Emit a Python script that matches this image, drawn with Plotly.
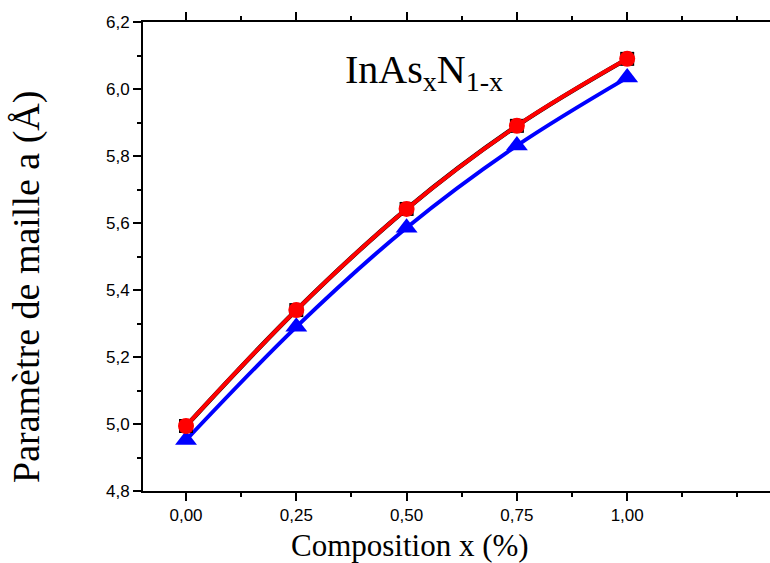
import plotly.graph_objects as go

x_comp = [0.0, 0.25, 0.5, 0.75, 1.0]
a_black = [4.994, 5.340, 5.642, 5.890, 6.090]
a_red = [4.994, 5.340, 5.642, 5.890, 6.090]
a_blue = [4.952, 5.290, 5.586, 5.831, 6.034]

x_ticks = [0.0, 0.25, 0.5, 0.75, 1.0]
y_ticks = [4.8, 5.0, 5.2, 5.4, 5.6, 5.8, 6.0, 6.2]

fig = go.Figure()
fig.add_trace(go.Scatter(x=x_comp, y=a_blue, mode="lines+markers",
                         line=dict(color="#0000ff", width=4, shape="spline"),
                         marker=dict(symbol="triangle-up", size=19, color="#0000ff"),
                         showlegend=False))
fig.add_trace(go.Scatter(x=x_comp, y=a_black, mode="lines+markers",
                         line=dict(color="#000000", width=4.5, shape="spline"),
                         marker=dict(symbol="square", size=14, color="#000000"),
                         showlegend=False))
fig.add_trace(go.Scatter(x=x_comp, y=a_red, mode="lines+markers",
                         line=dict(color="#ff0000", width=4, shape="spline"),
                         marker=dict(symbol="circle", size=16, color="#ff0000"),
                         showlegend=False))

fig.add_annotation(x=0.54, y=6.05, xref="x", yref="y",
                   text="InAs<sub>x</sub>N<sub>1-x</sub>", showarrow=False,
                   font=dict(family="Liberation Serif", size=40, color="black"),
                   xanchor="center", yanchor="middle")

# axis titles placed as annotations (offset from plot center like the reference)
fig.add_annotation(x=(410 - 143) / 627, y=-(545 - 491) / 469, xref="paper", yref="paper",
                   text="Composition x (%)", showarrow=False,
                   font=dict(family="Liberation Serif", size=31, color="black"),
                   xanchor="center", yanchor="middle")
fig.add_annotation(x=(27 - 143) / 627, y=(491 - 287) / 469, xref="paper", yref="paper",
                   text="Paramètre de maille a (Å)", showarrow=False, textangle=-90,
                   font=dict(family="Liberation Serif", size=38, color="black"),
                   xanchor="center", yanchor="middle")

fig.update_layout(
    width=770, height=563,
    margin=dict(l=143, r=0, t=22, b=72),
    paper_bgcolor="white", plot_bgcolor="white",
    separators=", ",
    font=dict(family="Liberation Sans", size=17, color="black"),
)
fig.update_xaxes(range=[-0.0975, 1.3237], tickvals=x_ticks, tickformat=".2f",
                 tickfont=dict(family="Liberation Sans", size=17, color="black"),
                 showline=True, linecolor="black", linewidth=2, mirror="ticks",
                 ticks="outside", ticklen=8, tickwidth=2, tickcolor="black",
                 minor=dict(dtick=0.125, tick0=0, ticks="outside", ticklen=4, tickwidth=2, tickcolor="black"),
                 showgrid=False, zeroline=False)
fig.update_yaxes(range=[4.8, 6.2], tickvals=y_ticks, tickformat=".1f",
                 tickfont=dict(family="Liberation Sans", size=17, color="black"),
                 showline=True, linecolor="black", linewidth=2,
                 ticks="outside", ticklen=8, tickwidth=2, tickcolor="black",
                 minor=dict(dtick=0.1, tick0=4.8, ticks="outside", ticklen=4, tickwidth=2, tickcolor="black"),
                 showgrid=False, zeroline=False)

fig.write_html("out.html")
